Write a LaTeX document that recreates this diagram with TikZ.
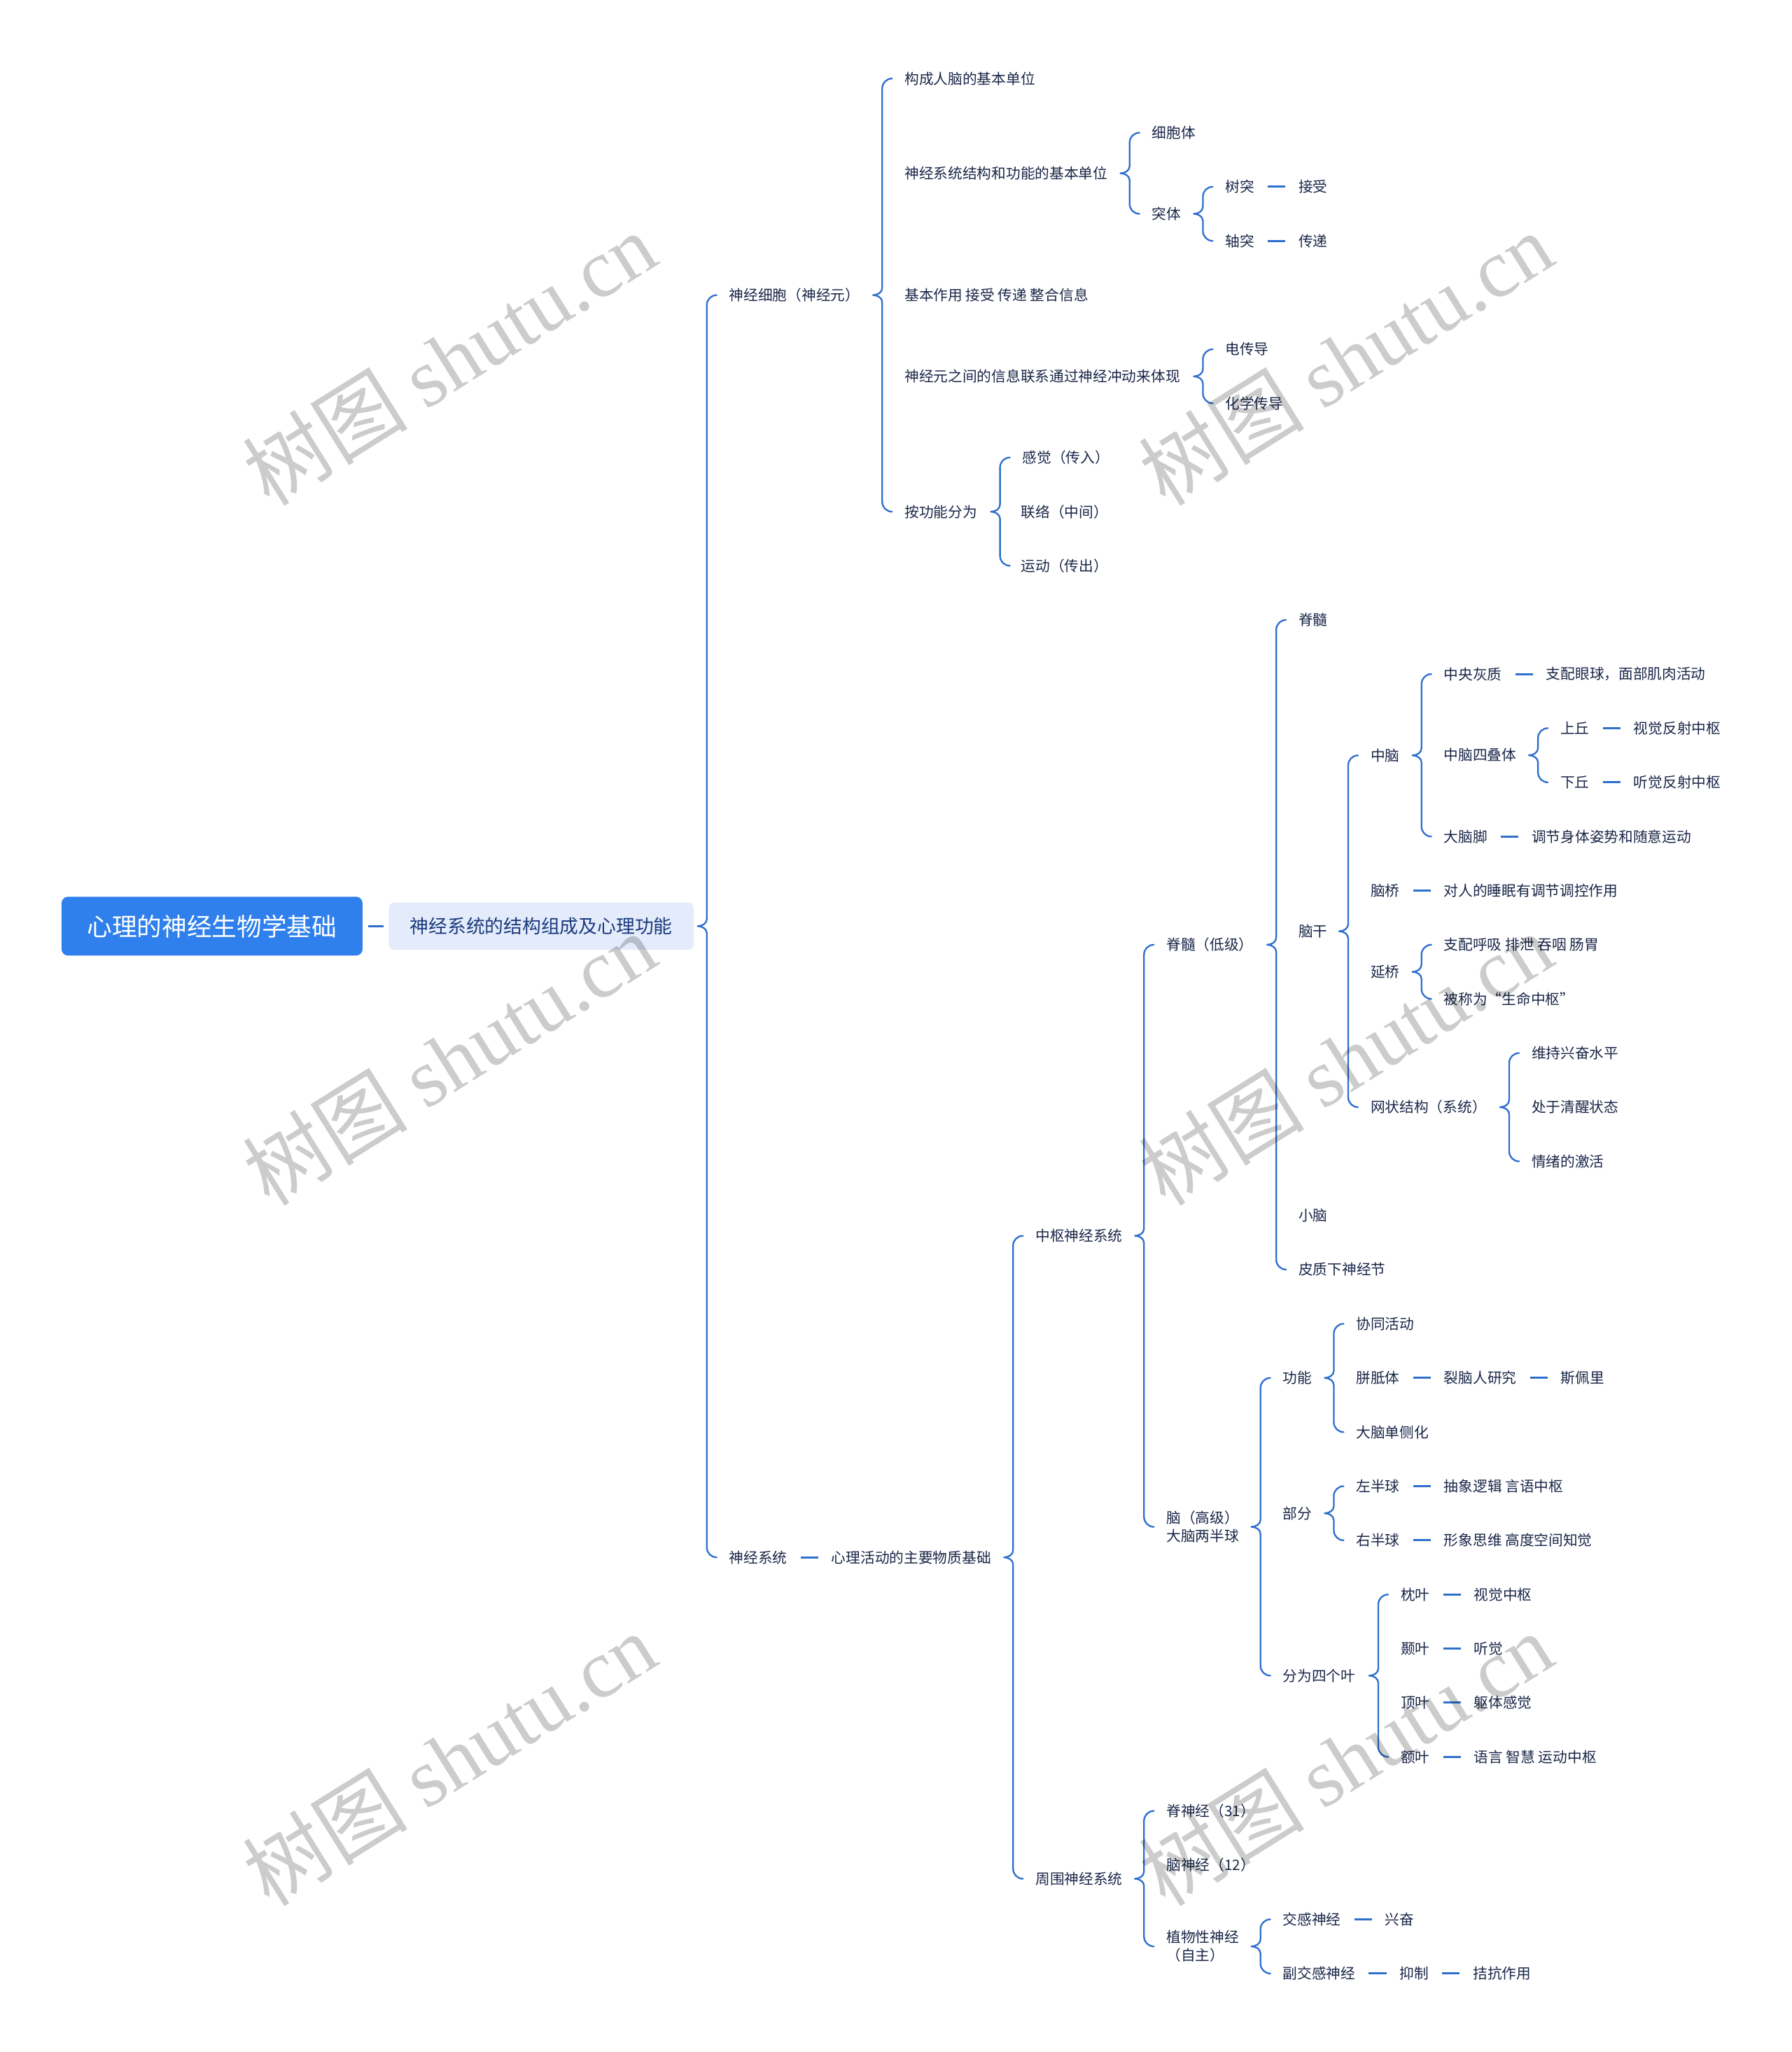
\documentclass[tikz,border=0pt]{standalone}
\usepackage{fontspec}
\setmainfont{Noto Sans CJK SC}
\newfontfamily\wmserif{Liberation Serif}
\usepackage{tikz}
\usetikzlibrary{calc, positioning}

\definecolor{ink}{RGB}{26,38,72}
\definecolor{wire}{RGB}{47,111,204}
\definecolor{rootblue}{RGB}{47,128,236}
\definecolor{subfill}{RGB}{228,236,252}
\definecolor{subink}{RGB}{27,58,125}

% curly brace: parent #1, first child #2, last child #3
\newcommand{\brc}[3]{%
  \draw[brc] let \p1=(#1.east), \p2=(#2.west), \p3=(#3.west), \n1={\x2-6.8mm} in
    ({\n1+3mm},\y2) to[out=180,in=90] (\n1,{\y2-3mm})
    -- (\n1,{\y1+2.2mm}) to[out=270,in=0] ({\n1-2.8mm},\y1)
    to[out=0,in=90] (\n1,{\y1-2.2mm})
    -- (\n1,{\y3+3mm}) to[out=270,in=180] ({\n1+3mm},\y3);
}

\begin{document}
\begin{tikzpicture}[x=0.4mm, y=-0.4mm]
  \tikzstyle{lbl}=[anchor=west, inner sep=0pt, text=ink, align=left,
    font=\fontsize{12.6pt}{15.9pt}\selectfont]
  \tikzstyle{brc}=[draw=wire, line width=0.5mm, line cap=round, line join=round]
  \tikzstyle{tie}=[draw=wire, line width=0.65mm, shorten <=4mm, shorten >=4mm]
  \tikzstyle{wmark}=[inner sep=0pt, rotate=32, text=black, text opacity=0.2,
    font=\fontsize{72pt}{72pt}\selectfont]

  \useasboundingbox (0,0) rectangle (1369,1568);

  %% Root
  \node[fill=rootblue, rounded corners=2mm, minimum width=92mm, minimum height=18mm,
    text=white, font=\fontsize{21.7pt}{24pt}\selectfont] (root) at (162,707.7)
    {心理的神经生物学基础};
  \node[fill=subfill, rounded corners=1.6mm, minimum width=93.2mm, minimum height=14.4mm,
    text=subink, font=\fontsize{16.3pt}{18pt}\selectfont] (sub) at (413.5,707.7)
    {神经系统的结构组成及心理功能};
  \draw[tie, shorten <=1.6mm, shorten >=1.6mm] (root.east) -- (sub.west);

  %% Level 1
  \node[lbl] (cell) at (557,225.5) {神经细胞（神经元）};
  \node[lbl] (sys) at (557,1190) {神经系统};
  \node[lbl, right=13.4mm of sys] (base) {心理活动的主要物质基础};

  %% Neuron
  \node[lbl] (brainunit) at (691,60) {构成人脑的基本单位};
  \node[lbl] (unit) at (691,132.4) {神经系统结构和功能的基本单位};
  \node[lbl] (role) at (691,225.5) {基本作用 接受 传递 整合信息};
  \node[lbl] (link) at (691,287.6) {神经元之间的信息联系通过神经冲动来体现};
  \node[lbl] (func) at (691,391) {按功能分为};
  % cell parts
  \node[lbl] (soma) at (880,101.4) {细胞体};
  \node[lbl] (proc) at (880,163.4) {突体};
  \node[lbl] (dend) at (936,142.7) {树突};
  \node[lbl, right=13.4mm of dend] (recv) {接受};
  \node[lbl] (axon) at (936,184.1) {轴突};
  \node[lbl, right=13.4mm of axon] (send) {传递};
  % conduction
  \node[lbl] (elec) at (936,266.9) {电传导};
  \node[lbl] (chem) at (936,308.2) {化学传导};
  % kinds
  \node[lbl] (sens) at (781,349.6) {感觉（传入）};
  \node[lbl] (inter) at (780,391) {联络（中间）};
  \node[lbl] (motor) at (780,432.3) {运动（传出）};

  %% Nervous system
  \node[lbl] (cns) at (791,944.3) {中枢神经系统};
  \node[lbl] (pns) at (791,1435.6) {周围神经系统};
  \node[lbl] (cord) at (891,721.9) {脊髓（低级）};
  \node[lbl] (brain) at (891,1166.7) {脑（高级）\\大脑两半球};

  % lower parts
  \node[lbl] (spine) at (992,473.7) {脊髓};
  \node[lbl] (stem) at (992,711.6) {脑干};
  \node[lbl] (cereb) at (992,928.8) {小脑};
  \node[lbl] (basal) at (992,970.1) {皮质下神经节};

  % brain stem
  \node[lbl] (mid) at (1047,577.2) {中脑};
  \node[lbl] (pons) at (1047,680.6) {脑桥};
  \node[lbl, right=13.4mm of pons] (sleep) {对人的睡眠有调节调控作用};
  \node[lbl] (medu) at (1047,742.6) {延桥};
  \node[lbl] (ret) at (1047,846) {网状结构（系统）};

  % midbrain
  \node[lbl] (gray) at (1103,515.1) {中央灰质};
  \node[lbl, right=13.4mm of gray] (eye) {支配眼球，面部肌肉活动};
  \node[lbl] (quad) at (1103,577.1) {中脑四叠体};
  \node[lbl] (peds) at (1103,639.2) {大脑脚};
  \node[lbl, right=13.4mm of peds] (pose) {调节身体姿势和随意运动};
  \node[lbl] (supc) at (1192,556.4) {上丘};
  \node[lbl, right=13.4mm of supc] (vref) {视觉反射中枢};
  \node[lbl] (infc) at (1192,597.8) {下丘};
  \node[lbl, right=13.4mm of infc] (aref) {听觉反射中枢};

  % medulla, reticular
  \node[lbl] (breath) at (1103,721.9) {支配呼吸 排泄 吞咽 肠胃};
  \node[lbl] (life) at (1103,763.3) {被称为“生命中枢”};
  \node[lbl] (arous) at (1170,804.7) {维持兴奋水平};
  \node[lbl] (awake) at (1170,846) {处于清醒状态};
  \node[lbl] (emot) at (1170,887.4) {情绪的激活};

  % cerebrum
  \node[lbl] (fn) at (980,1052.9) {功能};
  \node[lbl] (part) at (980,1156.3) {部分};
  \node[lbl] (lobe) at (980,1280.4) {分为四个叶};
  \node[lbl] (coop) at (1036,1011.5) {协同活动};
  \node[lbl] (corp) at (1036,1052.9) {胼胝体};
  \node[lbl, right=13.4mm of corp] (split) {裂脑人研究};
  \node[lbl, right=13.4mm of split] (sperry) {斯佩里};
  \node[lbl] (later) at (1036,1094.3) {大脑单侧化};
  \node[lbl] (lhemi) at (1036,1135.6) {左半球};
  \node[lbl, right=13.4mm of lhemi] (logic) {抽象逻辑 言语中枢};
  \node[lbl] (rhemi) at (1036,1177) {右半球};
  \node[lbl, right=13.4mm of rhemi] (image) {形象思维 高度空间知觉};
  \node[lbl] (occ) at (1070,1218.4) {枕叶};
  \node[lbl, right=13.4mm of occ] (vcen) {视觉中枢};
  \node[lbl] (temp) at (1070,1259.7) {颞叶};
  \node[lbl, right=13.4mm of temp] (hear) {听觉};
  \node[lbl] (par) at (1070,1301.1) {顶叶};
  \node[lbl, right=13.4mm of par] (body) {躯体感觉};
  \node[lbl] (front) at (1070,1342.5) {额叶};
  \node[lbl, right=13.4mm of front] (lang) {语言 智慧 运动中枢};

  % peripheral
  \node[lbl] (snerve) at (891,1383.8) {脊神经（31）};
  \node[lbl] (cnerve) at (891,1425.2) {脑神经（12）};
  \node[lbl] (auto) at (891,1487.3) {植物性神经\\（自主）};
  \node[lbl] (symp) at (980,1466.6) {交感神经};
  \node[lbl, right=13.4mm of symp] (exc) {兴奋};
  \node[lbl] (para) at (980,1508) {副交感神经};
  \node[lbl, right=13.4mm of para] (inh) {抑制};
  \node[lbl, right=13.4mm of inh] (antag) {拮抗作用};

  %% Braces
  \brc{sub}{cell}{sys}
  \brc{cell}{brainunit}{func}
  \brc{unit}{soma}{proc}
  \brc{proc}{dend}{axon}
  \brc{link}{elec}{chem}
  \brc{func}{sens}{motor}
  \brc{base}{cns}{pns}
  \brc{cns}{cord}{brain}
  \brc{cord}{spine}{basal}
  \brc{stem}{mid}{ret}
  \brc{mid}{gray}{peds}
  \brc{quad}{supc}{infc}
  \brc{medu}{breath}{life}
  \brc{ret}{arous}{emot}
  \brc{brain}{fn}{lobe}
  \brc{fn}{coop}{later}
  \brc{part}{lhemi}{rhemi}
  \brc{lobe}{occ}{front}
  \brc{pns}{snerve}{auto}
  \brc{auto}{symp}{para}

  %% Dashes
  \foreach \a/\b in {sys/base, dend/recv, axon/send, pons/sleep, gray/eye,
      peds/pose, supc/vref, infc/aref, corp/split, split/sperry, lhemi/logic,
      rhemi/image, occ/vcen, temp/hear, par/body, front/lang, symp/exc,
      para/inh, inh/antag}
    \draw[tie] (\a.east) -- (\b.west);

  %% Watermarks
  \foreach \wx/\wy [count=\i] in {343/274, 1028/274, 343/809, 1028/809, 343/1344, 1028/1344}
    \node[wmark] (wm\i) at (\wx,\wy) {树图 {\wmserif shutu.cn}};
\end{tikzpicture}
\end{document}
